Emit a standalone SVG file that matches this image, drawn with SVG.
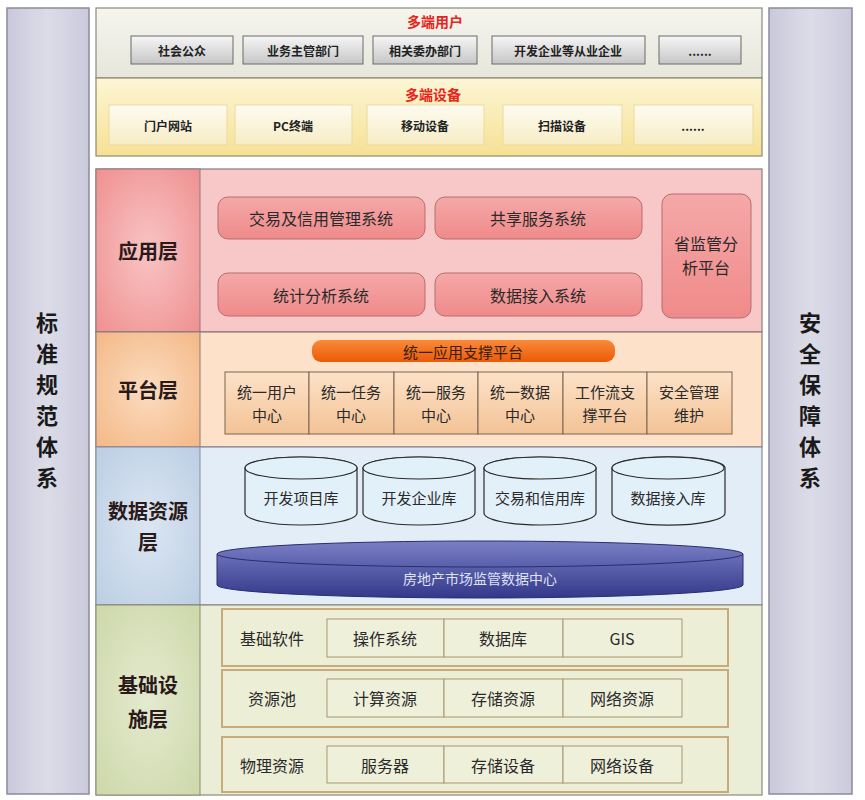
<svg xmlns="http://www.w3.org/2000/svg" width="865" height="800" viewBox="0 0 865 800">
<style>
text{font-family:"Noto Sans CJK SC","Liberation Sans",sans-serif;text-anchor:middle;dominant-baseline:central;fill:#2a2a2a}
.side{font-size:22px;font-weight:bold;fill:#1a1a1a;writing-mode:vertical-rl;letter-spacing:9px}
.lay{font-size:20px;font-weight:bold;fill:#2a1a1a}
.sm{font-size:12px;font-weight:bold;fill:#222}
.red{font-size:14px;font-weight:bold;fill:#e8231a}
.btn{font-size:16px}
.pc{font-size:15px}
.ubtn{fill:url(#gUbtn);stroke:#6a6a6a;stroke-width:1}
.dbtn{fill:url(#gDbtn);stroke:#eadba0;stroke-width:1}
.abtn{fill:url(#gAbtn);stroke:#b86c6c;stroke-width:1}
.pcell{fill:url(#gPcell);stroke:#7a6552;stroke-width:1}
.cyl{fill:#e2f0f9;stroke:#2a2a2a;stroke-width:1.2}
.row{fill:#ecefd6;stroke:#c9aa78;stroke-width:2}
.icell{fill:#eef0da;stroke:#a89670;stroke-width:1}
</style>
<defs>
<linearGradient id="gSide" x1="0" y1="0" x2="1" y2="0"><stop offset="0" stop-color="#c9c9dc"/><stop offset="0.5" stop-color="#dcdce8"/><stop offset="1" stop-color="#cacadc"/></linearGradient>
<linearGradient id="gUser" x1="0" y1="0" x2="0" y2="1"><stop offset="0" stop-color="#f6f5ee"/><stop offset="1" stop-color="#e6e6dc"/></linearGradient>
<linearGradient id="gDev" x1="0" y1="0" x2="0" y2="1"><stop offset="0" stop-color="#fdf6d6"/><stop offset="1" stop-color="#f6e193"/></linearGradient>
<linearGradient id="gUbtn" x1="0" y1="0" x2="0" y2="1"><stop offset="0" stop-color="#f6f6f6"/><stop offset="1" stop-color="#c6c6c6"/></linearGradient>
<linearGradient id="gDbtn" x1="0" y1="0" x2="0" y2="1"><stop offset="0" stop-color="#fefcf2"/><stop offset="1" stop-color="#f6ecc4"/></linearGradient>
<radialGradient id="gAlab" cx="0.5" cy="0.5" r="0.7"><stop offset="0" stop-color="#f9c4c4"/><stop offset="1" stop-color="#ef9090"/></radialGradient>
<linearGradient id="gAbtn" x1="0" y1="0" x2="0" y2="1"><stop offset="0" stop-color="#f5a8a8"/><stop offset="1" stop-color="#f08a8a"/></linearGradient>
<radialGradient id="gPlab" cx="0.5" cy="0.5" r="0.7"><stop offset="0" stop-color="#fbdcc0"/><stop offset="1" stop-color="#f4b886"/></radialGradient>
<linearGradient id="gPcell" x1="0" y1="0" x2="0" y2="1"><stop offset="0" stop-color="#fde2c8"/><stop offset="1" stop-color="#f3c396"/></linearGradient>
<linearGradient id="gPill" x1="0" y1="0" x2="0" y2="1"><stop offset="0" stop-color="#f98a3a"/><stop offset="1" stop-color="#ec5a05"/></linearGradient>
<radialGradient id="gDlab" cx="0.5" cy="0.5" r="0.7"><stop offset="0" stop-color="#dbe6f2"/><stop offset="1" stop-color="#bccee4"/></radialGradient>
<linearGradient id="gDisk" x1="0" y1="0" x2="0" y2="1"><stop offset="0" stop-color="#6b70b8"/><stop offset="1" stop-color="#34388a"/></linearGradient>
<linearGradient id="gDiskTop" x1="0" y1="0" x2="0" y2="1"><stop offset="0" stop-color="#7a7fc4"/><stop offset="1" stop-color="#5a5fac"/></linearGradient>
<radialGradient id="gIlab" cx="0.5" cy="0.5" r="0.7"><stop offset="0" stop-color="#e4ead0"/><stop offset="1" stop-color="#cdd8a8"/></radialGradient>
</defs>

<g id="standards">
<rect x="7" y="8" width="82" height="786" fill="url(#gSide)" stroke="#8a8a9a" stroke-width="1.5"/>
<text class="side" x="47" y="405">标准规范体系</text>
</g>
<g id="security">
<rect x="769" y="8" width="83" height="786" fill="url(#gSide)" stroke="#8a8a9a" stroke-width="1.5"/>
<text class="side" x="810" y="405">安全保障体系</text>
</g>

<g id="users">
<rect x="96" y="8" width="666" height="70" fill="url(#gUser)" stroke="#8a8a80" stroke-width="1.2"/>
<text class="red" x="435" y="21">多端用户</text>
<rect class="ubtn" x="131" y="36" width="102" height="28"/><text class="sm" x="182" y="50">社会公众</text>
<rect class="ubtn" x="243" y="36" width="120" height="28"/><text class="sm" x="303" y="50">业务主管部门</text>
<rect class="ubtn" x="373" y="36" width="104" height="28"/><text class="sm" x="425" y="50">相关委办部门</text>
<rect class="ubtn" x="492" y="36" width="153" height="28"/><text class="sm" x="568" y="50">开发企业等从业企业</text>
<rect class="ubtn" x="659" y="36" width="82" height="28"/><text class="sm" x="700" y="50">......</text>
</g>
<g id="devices">
<rect x="96" y="78" width="666" height="78" fill="url(#gDev)" stroke="#8a8a70" stroke-width="1.2"/>
<text class="red" x="433" y="94">多端设备</text>
<rect class="dbtn" x="109" y="105" width="118" height="40"/><text class="sm" x="168" y="125">门户网站</text>
<rect class="dbtn" x="235" y="105" width="117" height="40"/><text class="sm" x="293" y="125">PC终端</text>
<rect class="dbtn" x="367" y="105" width="117" height="40"/><text class="sm" x="425" y="125">移动设备</text>
<rect class="dbtn" x="503" y="105" width="119" height="40"/><text class="sm" x="562" y="125">扫描设备</text>
<rect class="dbtn" x="634" y="105" width="119" height="40"/><text class="sm" x="693" y="125">......</text>
</g>

<g id="app-layer">
<rect x="96" y="169" width="666" height="163" fill="#f8c8c8" stroke="#8a7a7a" stroke-width="1.2"/>
<rect x="96" y="169" width="104" height="163" fill="url(#gAlab)" stroke="#8a7a7a" stroke-width="1"/>
<text class="lay" x="148" y="250">应用层</text>
<rect class="abtn" x="218" y="197" width="207" height="42" rx="10"/><text class="btn" x="321" y="218">交易及信用管理系统</text>
<rect class="abtn" x="435" y="197" width="207" height="42" rx="10"/><text class="btn" x="538" y="218">共享服务系统</text>
<rect class="abtn" x="218" y="273" width="207" height="43" rx="10"/><text class="btn" x="321" y="295">统计分析系统</text>
<rect class="abtn" x="435" y="273" width="207" height="43" rx="10"/><text class="btn" x="538" y="295">数据接入系统</text>
<rect class="abtn" x="662" y="194" width="89" height="124" rx="10"/><text class="btn" x="706" y="243">省监管分</text><text class="btn" x="706" y="267">析平台</text>
</g>

<g id="platform-layer">
<rect x="96" y="332" width="666" height="115" fill="#fde1c9" stroke="#8a7a7a" stroke-width="1.2"/>
<rect x="96" y="332" width="104" height="115" fill="url(#gPlab)" stroke="#8a7a7a" stroke-width="1"/>
<text class="lay" x="148" y="389">平台层</text>
<rect x="312" y="340" width="303" height="22" rx="9" fill="url(#gPill)"/>
<text x="463" y="351" style="font-size:15px;fill:#3a2010">统一应用支撑平台</text>
<rect class="pcell" x="225" y="372" width="84" height="62"/><text class="pc" x="267" y="391">统一用户</text><text class="pc" x="267" y="414">中心</text>
<rect class="pcell" x="309" y="372" width="85" height="62"/><text class="pc" x="351" y="391">统一任务</text><text class="pc" x="351" y="414">中心</text>
<rect class="pcell" x="394" y="372" width="84" height="62"/><text class="pc" x="436" y="391">统一服务</text><text class="pc" x="436" y="414">中心</text>
<rect class="pcell" x="478" y="372" width="85" height="62"/><text class="pc" x="520" y="391">统一数据</text><text class="pc" x="520" y="414">中心</text>
<rect class="pcell" x="563" y="372" width="84" height="62"/><text class="pc" x="605" y="391">工作流支</text><text class="pc" x="605" y="414">撑平台</text>
<rect class="pcell" x="647" y="372" width="85" height="62"/><text class="pc" x="689" y="391">安全管理</text><text class="pc" x="689" y="414">维护</text>
</g>

<g id="data-layer">
<rect x="96" y="447" width="666" height="158" fill="#e2edf7" stroke="#8a8a9a" stroke-width="1.2"/>
<rect x="96" y="447" width="104" height="158" fill="url(#gDlab)" stroke="#8a8a9a" stroke-width="1"/>
<text class="lay" x="148" y="510">数据资源</text><text class="lay" x="148" y="541">层</text>
<path class="cyl" d="M245,468 L245,513 A56,12 0 0 0 357,513 L357,468 A56,11 0 0 0 245,468 Z"/><ellipse class="cyl" cx="301" cy="468" rx="56" ry="11"/><text class="btn" x="301" y="497" style="font-size:15px">开发项目库</text>
<path class="cyl" d="M363,468 L363,513 A56,12 0 0 0 475,513 L475,468 A56,11 0 0 0 363,468 Z"/><ellipse class="cyl" cx="419" cy="468" rx="56" ry="11"/><text class="btn" x="419" y="497" style="font-size:15px">开发企业库</text>
<path class="cyl" d="M484,468 L484,513 A56,12 0 0 0 596,513 L596,468 A56,11 0 0 0 484,468 Z"/><ellipse class="cyl" cx="540" cy="468" rx="56" ry="11"/><text class="btn" x="540" y="497" style="font-size:15px">交易和信用库</text>
<path class="cyl" d="M612,468 L612,513 A56,12 0 0 0 725,513 L725,468 A56,11 0 0 0 612,468 Z"/><ellipse class="cyl" cx="668" cy="468" rx="56" ry="11"/><text class="btn" x="668" y="497" style="font-size:15px">数据接入库</text>
<path d="M217,554 L217,585 A263,13 0 0 0 743,585 L743,554 Z" fill="url(#gDisk)" stroke="#2a2e70" stroke-width="1"/>
<ellipse cx="480" cy="554" rx="263" ry="13" fill="url(#gDiskTop)" stroke="#2a2e70" stroke-width="1"/>
<text x="480" y="578" style="font-size:14px;fill:#dfe2f5">房地产市场监管数据中心</text>
</g>

<g id="infra-layer">
<rect x="96" y="605" width="666" height="190" fill="#eaeed6" stroke="#8a8a7a" stroke-width="1.2"/>
<rect x="96" y="605" width="104" height="190" fill="url(#gIlab)" stroke="#8a8a7a" stroke-width="1"/>
<text class="lay" x="148" y="684">基础设</text><text class="lay" x="148" y="718">施层</text>
<rect class="row" x="222" y="609" width="506" height="57"/>
<text class="btn" x="272" y="638">基础软件</text>
<rect class="icell" x="327" y="619" width="117" height="38"/><text class="btn" x="385" y="638">操作系统</text>
<rect class="icell" x="444" y="619" width="119" height="38"/><text class="btn" x="503" y="638">数据库</text>
<rect class="icell" x="563" y="619" width="119" height="38"/><text class="btn" x="622" y="638">GIS</text>
<rect class="row" x="222" y="670" width="506" height="57"/>
<text class="btn" x="272" y="698">资源池</text>
<rect class="icell" x="327" y="679" width="117" height="38"/><text class="btn" x="385" y="698">计算资源</text>
<rect class="icell" x="444" y="679" width="119" height="38"/><text class="btn" x="503" y="698">存储资源</text>
<rect class="icell" x="563" y="679" width="119" height="38"/><text class="btn" x="622" y="698">网络资源</text>
<rect class="row" x="222" y="737" width="506" height="55"/>
<text class="btn" x="272" y="765">物理资源</text>
<rect class="icell" x="327" y="746" width="117" height="37"/><text class="btn" x="385" y="765">服务器</text>
<rect class="icell" x="444" y="746" width="119" height="37"/><text class="btn" x="503" y="765">存储设备</text>
<rect class="icell" x="563" y="746" width="119" height="37"/><text class="btn" x="622" y="765">网络设备</text>
</g>
<g id="connectors"/>
</svg>
